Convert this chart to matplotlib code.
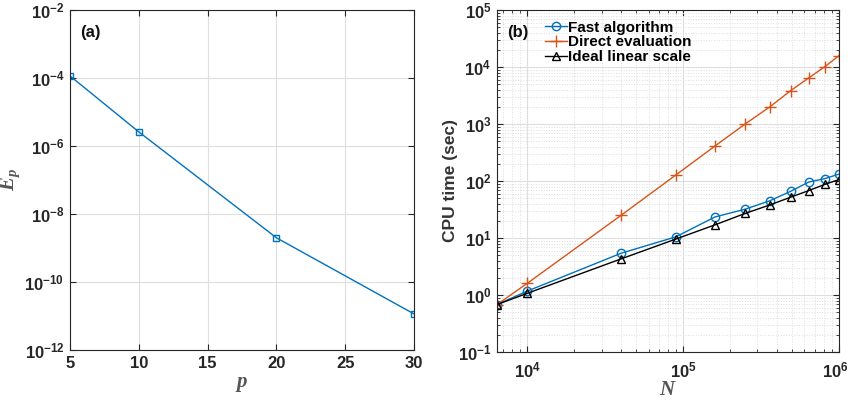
import numpy as np
import matplotlib
matplotlib.use("Agg")
import matplotlib.pyplot as plt
import matplotlib.transforms as mtrans
from matplotlib.ticker import LogLocator, FixedLocator, NullLocator, NullFormatter

# panel (a): error vs expansion order
p = [5, 10, 20, 30]
Ep = [1.15e-4, 2.6e-6, 2.0e-9, 1.15e-11]

# panel (b): CPU time vs N
N = [6400, 10000, 40000, 90000, 160000, 250000, 360000, 490000, 640000, 810000, 1000000]
t_fast = [0.68, 1.17, 5.4, 10.5, 23.4, 32, 45, 66, 96, 110, 132]
t_direct = [0.68, 1.6, 25, 128, 410, 1000, 2000, 3850, 6450, 10100, 15800]
t_ideal = [0.68, 1.07, 4.3, 9.6, 17, 27, 38, 52, 68, 87, 106]
labels = ["Fast algorithm", "Direct evaluation", "Ideal linear scale"]

plt.rcParams['font.family'] = 'Liberation Sans'
plt.rcParams['font.weight'] = 'bold'
plt.rcParams['mathtext.fontset'] = 'custom'
plt.rcParams['mathtext.rm'] = 'Liberation Sans:bold'
plt.rcParams['mathtext.bf'] = 'Liberation Sans:bold'
plt.rcParams['mathtext.it'] = 'Liberation Serif:italic'

tick_col = '#262626'
blue = '#0072BD'
orange = '#D95319'


def sci(v, pos):
    e = int(round(np.log10(v)))
    return r'$\mathrm{10^{%d}}$' % e


def style(ax):
    ax.tick_params(which='both', direction='in', top=True, right=True,
                   colors=tick_col, labelsize=12, pad=4)
    ax.tick_params(which='major', length=4)
    ax.tick_params(which='minor', length=2.5)
    for s in ax.spines.values():
        s.set_color(tick_col)
        s.set_linewidth(0.8)


fig = plt.figure(figsize=(8.5, 4.03), dpi=100)
W, H = 850, 403
ax1 = fig.add_axes([70 / W, 1 - 350 / H, 344 / W, 340 / H])
ax2 = fig.add_axes([497 / W, 1 - 352 / H, 342 / W, 342 / H])

# (a)
ax1.semilogy(p, Ep, '-s', color=blue, lw=1, ms=4.5, mfc='none', mew=1)
ax1.set_xlim(5, 30)
ax1.set_ylim(1e-12, 1e-2)
ax1.set_xticks([5, 10, 15, 20, 25, 30])
ax1.yaxis.set_major_locator(FixedLocator([1e-12, 1e-10, 1e-8, 1e-6, 1e-4, 1e-2]))
ax1.yaxis.set_minor_locator(NullLocator())
ax1.yaxis.set_major_formatter(sci)
ax1.grid(True, color='#dedede', lw=0.8)
ax1.set_axisbelow(True)
style(ax1)
ax1.set_xlabel('$p$', fontsize=15, color='#555555', labelpad=3)
ax1.set_ylabel('$E_p$', fontsize=15, color='#555555')
ax1.yaxis.set_label_coords(-0.14, 0.5)
ax1.text(0.03, 0.955, '(a)', transform=ax1.transAxes, fontsize=12,
         fontweight='bold', va='top', color='#111111')

# (b)
ax2.loglog(N, t_fast, '-o', color=blue, lw=1, ms=6, mfc='none', mew=1, label=labels[0])
ax2.loglog(N, t_direct, '-+', color=orange, lw=1, ms=8, mew=1, label=labels[1])
ax2.loglog(N, t_ideal, '-^', color='black', lw=1, ms=6, mfc='none', mew=1, label=labels[2])
ax2.set_xlim(6400, 1e6)
ax2.set_ylim(1e-1, 1e5)
ax2.xaxis.set_major_locator(FixedLocator([1e4, 1e5, 1e6]))
ax2.xaxis.set_minor_locator(LogLocator(base=10, subs=np.arange(2, 10), numticks=20))
ax2.yaxis.set_major_locator(FixedLocator([1e-1, 1e0, 1e1, 1e2, 1e3, 1e4, 1e5]))
ax2.yaxis.set_minor_locator(LogLocator(base=10, subs=np.arange(2, 10), numticks=20))
ax2.xaxis.set_major_formatter(sci)
ax2.yaxis.set_major_formatter(sci)
ax2.xaxis.set_minor_formatter(NullFormatter())
ax2.yaxis.set_minor_formatter(NullFormatter())
ax2.grid(True, which='major', color='#dedede', lw=0.8)
ax2.grid(True, which='minor', color='#dedede', lw=0.7, ls=':')
ax2.set_axisbelow(True)
style(ax2)
ax2.tick_params(axis='x', pad=6)
ax2.set_xlabel('$N$', fontsize=15, color='#555555', labelpad=0)
ax2.set_ylabel('CPU time (sec)', fontsize=12.5, fontweight='bold', color='#333333')
ax2.yaxis.set_label_coords(-0.114, 0.5)
ax2.text(0.03, 0.955, '(b)', transform=ax2.transAxes, fontsize=12,
         fontweight='bold', va='top', color='#111111')
leg = ax2.legend(loc='upper left', bbox_to_anchor=(0.11, 1.0), frameon=False,
                 fontsize=11, handlelength=1.4, handletextpad=0.1,
                 labelspacing=0.05, borderaxespad=0.3)
for t in leg.get_texts():
    t.set_fontweight('bold')

# keep the last x tick label inside the figure
fig.canvas.draw()
last = ax2.get_xticklabels()[-1]
last.set_transform(last.get_transform() + mtrans.ScaledTranslation(-4 / 100, 0, fig.dpi_scale_trans))

fig.savefig('out.png', dpi=100)
